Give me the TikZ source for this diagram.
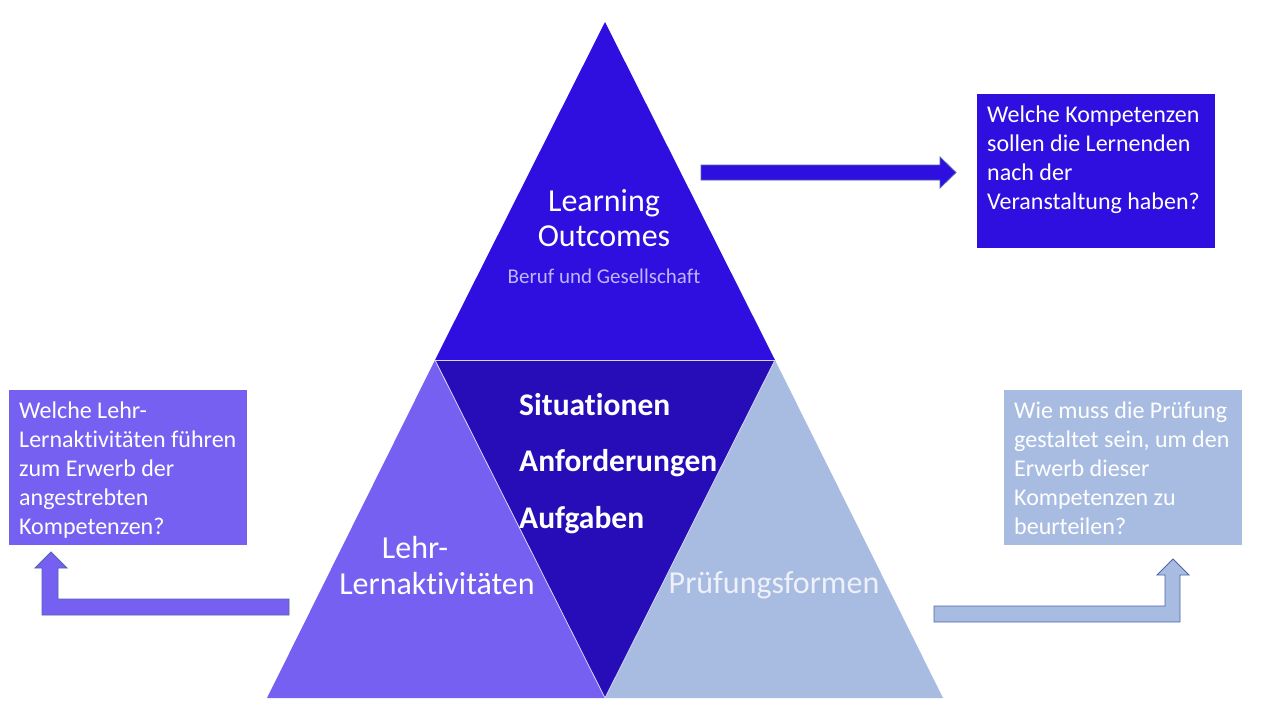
\documentclass[tikz,border=0pt]{standalone}
\usepackage{fontspec}
\setmainfont{Carlito}[Ligatures=CommonOff]
\definecolor{topc}{RGB}{46,15,224}
\definecolor{midc}{RGB}{38,13,183}
\definecolor{leftc}{RGB}{118,96,242}
\definecolor{rightc}{RGB}{168,188,226}
\definecolor{edgec}{RGB}{215,215,240}
\definecolor{arrowline}{RGB}{80,100,170}
\definecolor{subc}{RGB}{190,182,250}
\begin{document}
\begin{tikzpicture}[x=1pt,y=-1pt,
  tri/.style={draw=edgec,line width=0.8pt,line join=miter},
  blockarrow/.style={draw=arrowline,line width=0.8pt,line join=miter},
  qbox/.style={inner sep=0pt,outer sep=0pt},
  qtext/.style={anchor=north west,align=left,text=white,inner sep=0pt,font=\fontsize{24}{29}\selectfont},
  bigtext/.style={text=white,align=center,inner sep=0pt,font=\fontsize{32}{35}\selectfont},
  boldtext/.style={text=white,anchor=west,inner sep=0pt,font=\fontsize{31.5}{34}\selectfont\bfseries}]
\path[use as bounding box,fill=white] (0,0) rectangle (1280,720);
% triangles
\coordinate (apex) at (605,22);
\coordinate (ml) at (435,360);
\coordinate (mr) at (775,360);
\coordinate (bl) at (267,698);
\coordinate (bm) at (605,698);
\coordinate (br) at (943,698);
\fill[leftc] (ml) -- (bl) -- (bm) -- cycle;
\fill[rightc] (mr) -- (bm) -- (br) -- cycle;
\fill[topc] (apex) -- (ml) -- (mr) -- cycle;
\fill[midc] (ml) -- (mr) -- (bm) -- cycle;
\draw[tri] (ml) -- (mr);
\draw[tri] (ml) -- (bm) -- (mr);
% texts in triangles
\node[bigtext] (lo) at (604,218) {Learning\\Outcomes};
\node[text=subc,inner sep=0pt,font=\fontsize{21}{24}\selectfont] (bg) at (604,276) {Beruf und Gesellschaft};
\node[boldtext] (sit) at (519,405) {Situationen};
\node[boldtext] (anf) at (519,463) {Anforderungen};
\node[boldtext] (auf) at (519,520) {Aufgaben};
\node[bigtext] (lla1) at (415,547) {Lehr-};
\node[bigtext] (lla2) at (437,584) {Lernaktivitäten};
\node[bigtext,text={rgb,255:red,238;green,240;blue,250}] (pf) at (774,585) {Prüfungsformen};
% boxes
\fill[topc] (977,94) rectangle (1215,248);
\node[qbox] (boxtr) at (1096,171) {};
\node[qtext] (ttr) at (987,106) {Welche Kompetenzen\\sollen die Lernenden\\nach der\\Veranstaltung haben?};
\fill[leftc] (9,390) rectangle (247,545);
\node[qbox] (boxl) at (128,467) {};
\node[qtext] (tl) at (19,402) {Welche Lehr-\\Lernaktivitäten führen\\zum Erwerb der\\angestrebten\\Kompetenzen?};
\fill[rightc] (1004,390) rectangle (1242,545);
\node[qbox] (boxr) at (1123,467) {};
\node[qtext] (tr) at (1014,402) {Wie muss die Prüfung\\gestaltet sein, um den\\Erwerb dieser\\Kompetenzen zu\\beurteilen?};
% arrows
\draw[blockarrow,fill=topc] (701,165) -- (940,165) -- (940,157) -- (956,172.5) -- (940,188) -- (940,180) -- (701,180) -- cycle;
\draw[blockarrow,fill=leftc] (289,599) -- (58,599) -- (58,568) -- (67,568) -- (51,552) -- (35,568) -- (42,568) -- (42,615) -- (289,615) -- cycle;
\draw[blockarrow,fill=rightc] (934,606) -- (1165,606) -- (1165,575) -- (1157,575) -- (1173,559) -- (1189,575) -- (1180,575) -- (1180,622) -- (934,622) -- cycle;
\end{tikzpicture}
\end{document}
